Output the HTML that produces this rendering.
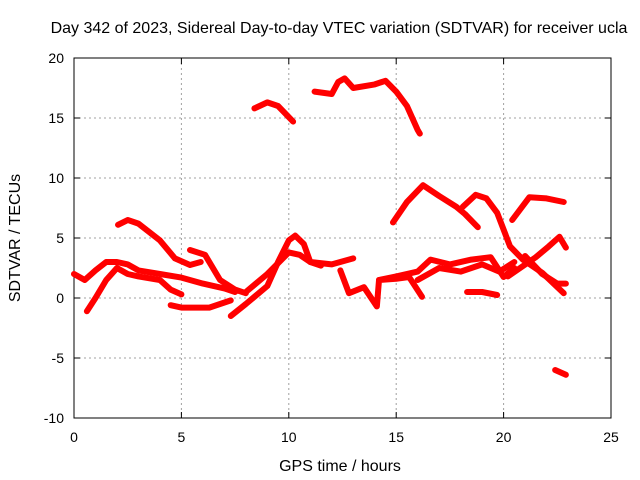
<!DOCTYPE html>
<html><head><meta charset="utf-8"><style>
body{margin:0;background:#fff}
svg{display:block;font-family:"Liberation Sans",sans-serif}
</style></head><body>
<svg id="chart" width="640" height="480">
<text x="339" y="33" font-size="16" text-anchor="middle">Day 342 of 2023, Sidereal Day-to-day VTEC variation (SDTVAR) for receiver ucla</text>
<text x="340" y="471" font-size="16" text-anchor="middle">GPS time / hours</text>
<text transform="translate(20,238) rotate(-90)" font-size="16" text-anchor="middle">SDTVAR / TECUs</text>
<g id="grid"></g><g id="axes"></g><g id="series"></g>
</svg>
<script>
const xTicks=[0,5,10,15,20,25];
const yTicks=[-10,-5,0,5,10,15,20];
const track1=[[0,2],[0.5,1.5],[1,2.3],[1.5,3],[2,3],[2.5,2.8],[3,2.3],[4,2],[5,1.7],[6,1.2],[7,0.8],[7.5,0.5]];
const track2=[[0.6,-1.1],[1,0],[1.5,1.5],[2,2.5],[2.5,2],[3,1.8],[4,1.5],[4.5,0.7],[5,0.3]];
const track3=[[2.05,6.1],[2.5,6.5],[3,6.2],[3.5,5.5],[4,4.8],[4.7,3.3],[5.4,2.75],[5.9,3]];
const track4=[[5.4,4],[6.1,3.6],[6.8,1.5],[7.5,0.7],[8,0.4]];
const track5=[[4.5,-0.6],[5,-0.8],[6.3,-0.8],[7.3,-0.2]];
const track6=[[7.3,-1.5],[8,-0.5],[9,1],[9.5,3],[10,4.8],[10.3,5.2],[10.7,4.5],[11,3],[12,2.8],[13,3.3]];
const track7=[[8,0.5],[9,2],[10,3.8],[10.5,3.6],[11,3],[11.5,2.7]];
const track8=[[8.4,15.8],[9,16.3],[9.5,16],[10.2,14.7]];
const track9=[[11.2,17.2],[12,17],[12.3,18],[12.6,18.3],[13,17.5],[14,17.8],[14.5,18.1],[15,17.2],[15.5,16],[16,14],[16.1,13.7]];
const track10=[[12.4,2.3],[12.8,0.4],[13.5,0.9],[14.1,-0.7],[14.2,1.5],[15,1.6],[15.6,1.75],[16.2,0.1]];
const track11=[[14.2,1.5],[15,1.8],[16,2.2],[16.6,3.2],[17.5,2.8],[18.5,3.2],[19.4,3.4],[20,1.75],[20.5,2.5]];
const track12=[[16,1.5],[17,2.5],[18,2.2],[19,2.8],[19.8,2.2],[20.5,3]];
const track13=[[14.85,6.3],[15.5,8],[16.25,9.4],[17,8.5],[17.8,7.6],[18.2,7],[18.8,5.9]];
const track14=[[18.1,7.6],[18.7,8.6],[19.2,8.3],[19.7,7.1],[20.3,4.3],[20.9,3.2],[21.8,2.1],[22.8,0.4]];
const track15=[[20.4,6.5],[21.2,8.4],[22,8.3],[22.8,8]];
const track16=[[20.2,1.8],[21.5,3.4],[22.1,4.3],[22.6,5.1],[22.9,4.2]];
const track17=[[21,3.5],[21.8,2],[22.5,1.2],[22.9,1.2]];
const track18=[[18.3,0.5],[19,0.5],[19.7,0.25]];
const track19=[[22.4,-6],[22.9,-6.4]];
const tracks=[track1,track2,track3,track4,track5,track6,track7,track8,track9,track10,track11,track12,track13,track14,track15,track16,track17,track18,track19];
const NS='http://www.w3.org/2000/svg';
const X0=74,X1=611,Y0=418,Y1=58;
const sx=h=>X0+(h-0)/(25-0)*(X1-X0);
const sy=v=>Y0-(v+10)/(30)*(Y0-Y1);
const grid=document.getElementById('grid'),axes=document.getElementById('axes'),ser=document.getElementById('series');
function mk(t,a,p){const e=document.createElementNS(NS,t);for(const k in a)e.setAttribute(k,a[k]);p.appendChild(e);return e;}
xTicks.forEach(t=>{const x=sx(t);
 if(t>0&&t<25){const g=mk('line',{x1:x,x2:x,y1:Y1,y2:Y0,stroke:'#a0a0a0','stroke-dasharray':'2,3'},grid);
 
 }
 mk('line',{x1:x,x2:x,y1:Y0,y2:Y0-6,stroke:'#000'},axes);mk('line',{x1:x,x2:x,y1:Y1,y2:Y1+6,stroke:'#000'},axes);
 const l=mk('text',{x:x,y:Y0+24,'font-size':14,'text-anchor':'middle'},axes);l.textContent=t;
 
 });
yTicks.forEach(t=>{const y=sy(t);
 if(t>-10&&t<20){const g=mk('line',{x1:X0,x2:X1,y1:y,y2:y,stroke:'#a0a0a0','stroke-dasharray':'2,3'},grid);
 
 }
 mk('line',{x1:X0,x2:X0+6,y1:y,y2:y,stroke:'#000'},axes);mk('line',{x1:X1,x2:X1-6,y1:y,y2:y,stroke:'#000'},axes);
 const l=mk('text',{x:X0-10,y:y+5,'font-size':14,'text-anchor':'end'},axes);l.textContent=t;
 
 });
const fr=mk('rect',{x:X0,y:Y1,width:X1-X0,height:Y0-Y1,fill:'none',stroke:'#000'},axes);


tracks.forEach((tr,i)=>{const p=mk('polyline',{points:tr.map(d=>sx(d[0])+','+sy(d[1])).join(' '),fill:'none',stroke:'#ff0000','stroke-width':6,'stroke-linejoin':'round','stroke-linecap':'round'},ser);
 
 });
</script>
</body></html>
